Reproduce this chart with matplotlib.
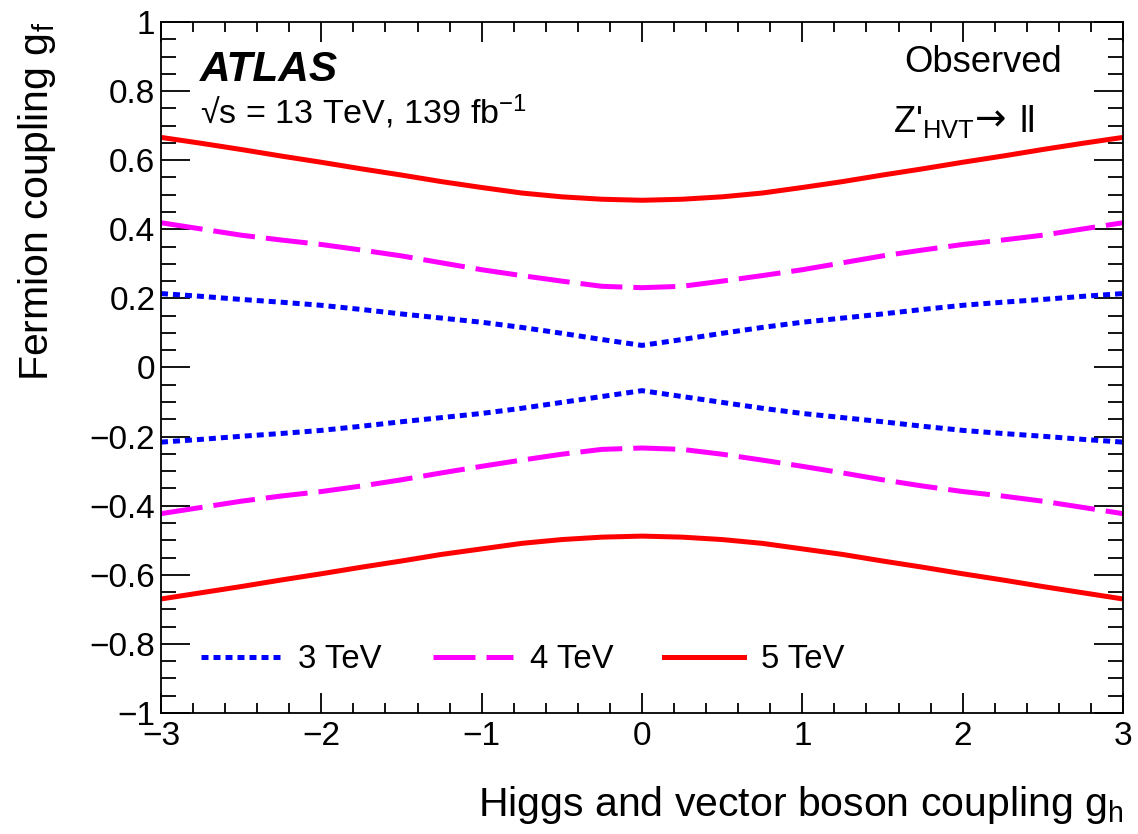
import matplotlib
matplotlib.use('Agg')
import matplotlib.pyplot as plt
from matplotlib.ticker import MultipleLocator, FuncFormatter

# couplings (upper and lower branches)
gh = [-3, -2.75, -2.5, -2.25, -2, -1.75, -1.5, -1.25, -1, -0.75, -0.5, -0.25, 0,
      0.25, 0.5, 0.75, 1, 1.25, 1.5, 1.75, 2, 2.25, 2.5, 2.75, 3]

gf_3tev_up = [0.214, 0.206, 0.197, 0.189, 0.180, 0.168, 0.155, 0.143, 0.131, 0.116, 0.099, 0.081, 0.064,
              0.081, 0.099, 0.116, 0.131, 0.143, 0.155, 0.168, 0.180, 0.189, 0.197, 0.206, 0.214]
gf_3tev_lo = [-0.216, -0.208, -0.199, -0.191, -0.182, -0.170, -0.157, -0.145, -0.133, -0.118, -0.101, -0.084, -0.067,
              -0.084, -0.101, -0.118, -0.133, -0.145, -0.157, -0.170, -0.182, -0.191, -0.199, -0.208, -0.216]
gf_4tev_up = [0.419, 0.401, 0.383, 0.369, 0.356, 0.340, 0.323, 0.303, 0.283, 0.266, 0.250, 0.235, 0.231,
              0.235, 0.250, 0.266, 0.283, 0.303, 0.323, 0.340, 0.356, 0.369, 0.383, 0.401, 0.419]
gf_4tev_lo = [-0.423, -0.405, -0.387, -0.372, -0.359, -0.343, -0.325, -0.305, -0.286, -0.268, -0.251, -0.237, -0.233,
              -0.237, -0.251, -0.268, -0.286, -0.305, -0.325, -0.343, -0.359, -0.372, -0.387, -0.405, -0.423]
gf_5tev_up = [0.666, 0.649, 0.631, 0.612, 0.594, 0.575, 0.557, 0.538, 0.521, 0.505, 0.494, 0.487, 0.484,
              0.487, 0.494, 0.505, 0.521, 0.538, 0.557, 0.575, 0.594, 0.612, 0.631, 0.649, 0.666]
gf_5tev_lo = [-0.670, -0.652, -0.634, -0.615, -0.597, -0.578, -0.560, -0.541, -0.525, -0.509, -0.498, -0.491, -0.488,
              -0.491, -0.498, -0.509, -0.525, -0.541, -0.560, -0.578, -0.597, -0.615, -0.634, -0.652, -0.670]

labels = ["3 TeV", "4 TeV", "5 TeV"]

plt.rcParams['font.family'] = ['Liberation Sans', 'DejaVu Sans']
plt.rcParams['mathtext.fontset'] = 'custom'
plt.rcParams['mathtext.rm'] = 'Liberation Sans'
plt.rcParams['mathtext.it'] = 'Liberation Sans:italic'
plt.rcParams['mathtext.bf'] = 'Liberation Sans:bold'

W, H = 1138, 834
fig = plt.figure(figsize=(W / 100, H / 100), dpi=100)
ax = fig.add_axes([161 / W, 1 - 713 / H, (1123 - 161) / W, (713 - 22) / H])

lw = 3.6
l3, = ax.plot(gh, gf_3tev_up, color='#0000ff', lw=lw, dashes=(1.4, 1.0))
ax.plot(gh, gf_3tev_lo, color='#0000ff', lw=lw, dashes=(1.4, 1.0))
l4, = ax.plot(gh, gf_4tev_up, color='#ff00ff', lw=lw, dashes=(8.4, 2.2))
ax.plot(gh, gf_4tev_lo, color='#ff00ff', lw=lw, dashes=(8.4, 2.2))
l5, = ax.plot(gh, gf_5tev_up, color='#ff0000', lw=lw)
ax.plot(gh, gf_5tev_lo, color='#ff0000', lw=lw)

ax.set_xlim(-3, 3)
ax.set_ylim(-1, 1)

ax.xaxis.set_major_locator(MultipleLocator(1))
ax.xaxis.set_minor_locator(MultipleLocator(0.2))
ax.yaxis.set_major_locator(MultipleLocator(0.2))
ax.yaxis.set_minor_locator(MultipleLocator(0.05))


def fmt(v, pos):
    s = "%g" % round(v, 3)
    if s == "-0":
        s = "0"
    return s.replace('-', '\u2212')


ax.xaxis.set_major_formatter(FuncFormatter(fmt))
ax.yaxis.set_major_formatter(FuncFormatter(fmt))

for s in ax.spines.values():
    s.set_linewidth(1.3)
ax.tick_params(axis='both', which='both', direction='in', top=True, right=True,
               width=1.3, labelsize=24)
ax.tick_params(axis='x', which='major', length=14.5, pad=6)
ax.tick_params(axis='x', which='minor', length=7.2)
ax.tick_params(axis='y', which='major', length=21, pad=4)
ax.tick_params(axis='y', which='minor', length=10.5)

ax.set_xlabel(r"Higgs and vector boson coupling g$_{\mathregular{h}}$",
              fontsize=29.5, loc='right', labelpad=23)
ax.set_ylabel(r"Fermion coupling g$_{\mathregular{f}}$",
              fontsize=29.5, loc='top', labelpad=23)

fig.text(200 / W, 1 - 70 / H, "ATLAS", fontsize=30.5, fontweight='bold',
         fontstyle='italic', va='center')
fig.text(200 / W, 1 - 112 / H, "\u221as = 13 TeV, 139 fb$^{\\mathregular{-1}}$",
         fontsize=24.6, va='center')
fig.text(904 / W, 1 - 62 / H, "Observed", fontsize=26.2, va='center')
fig.text(893 / W, 1 - 122 / H, "Z'$_{\\mathregular{HVT}}$", fontsize=26.2, va='center')
fig.text(975 / W, 1 - 120 / H, "\u2192", fontsize=27, va='center',
         family='DejaVu Sans')
fig.text(1019 / W, 1 - 122 / H, "ll", fontsize=26.2, va='center')

ax.legend([l3, l4, l5], labels, ncol=3, frameon=False, fontsize=23.7,
          loc='center left', bbox_to_anchor=(40 / 962, (713 - 660) / 691),
          handlelength=2.43, handletextpad=0.52, columnspacing=1.55,
          borderaxespad=0, borderpad=0)

fig.savefig("out.png", dpi=100)
